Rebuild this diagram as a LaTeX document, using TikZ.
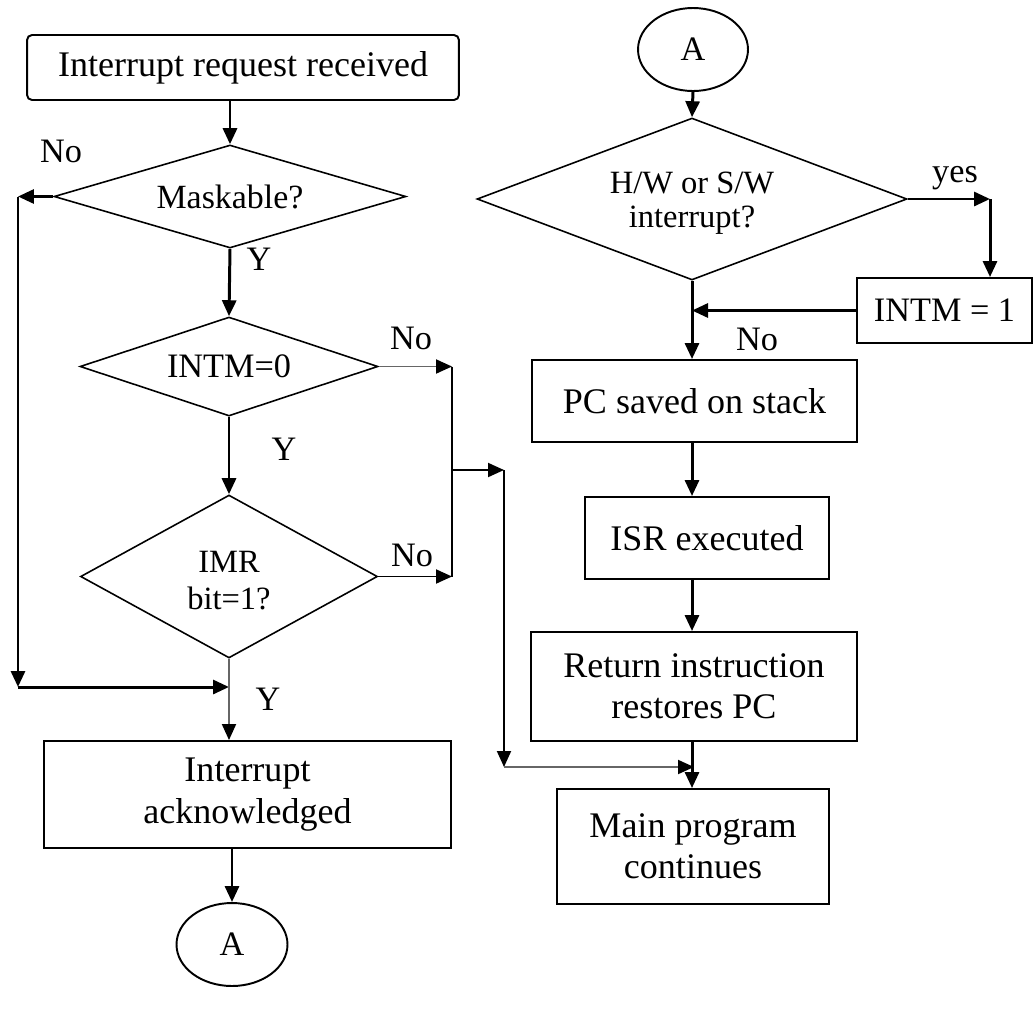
\documentclass[tikz,border=0pt]{standalone}
\usepackage{fontspec}
\setmainfont{Liberation Serif}
\usetikzlibrary{shapes.geometric,arrows.meta,calc}
\begin{document}
\begin{tikzpicture}[x=0.02cm,y=-0.02cm,
  box/.style={draw,line width=1.1pt,inner sep=0pt,align=center,font=\fontsize{20.5}{23.5}\selectfont},
  dia/.style={draw,shape=diamond,line width=0.9pt,inner sep=0pt,align=center,font=\fontsize{18.5}{20.5}\selectfont},
  term/.style={draw,ellipse,line width=1.1pt,inner sep=0pt,font=\fontsize{19.5}{22}\selectfont},
  lbl/.style={inner sep=0pt,font=\fontsize{19.5}{22}\selectfont},
  arr/.style={line width=1.7pt,-{Triangle[length=0.32cm,width=0.28cm]}},
  thinarr/.style={line width=1.1pt,draw=black!60,-{Triangle[length=0.32cm,width=0.28cm,color=black]}},
  plain/.style={line width=1.1pt}
]
\fill[white] (0,0) rectangle (1034,1025);
\useasboundingbox (0,0) rectangle (1034,1025);

% left column
\node[box,rounded corners=0.1cm,minimum width=8.64cm,minimum height=1.3cm] (req) at (243,67.5) {Interrupt request received};
\node[dia,aspect=3.42,minimum width=7.04cm,minimum height=2.06cm,font=\fontsize{19.3}{22}\selectfont] (mask) at (230,196.5) {Maskable?};
\node[dia,aspect=3.0,minimum width=5.96cm,minimum height=1.98cm,font=\fontsize{19.5}{22.5}\selectfont] (intm) at (229,366.5) {INTM=0};
\node[dia,aspect=1.82,minimum width=5.94cm,minimum height=3.26cm,font=\fontsize{18.5}{21}\selectfont] (imr) at (229,576.5) {};
\node[inner sep=0pt,align=center,font=\fontsize{18.5}{21}\selectfont] (imrt) at (229,581) {IMR\\bit=1?};
\node[box,minimum width=8.14cm,minimum height=2.14cm] (ack) at (247.5,794.5) {Interrupt\\acknowledged};
\node[term,minimum width=2.22cm,minimum height=1.66cm] (A2) at (232,944.5) {A};

% right column
\node[term,minimum width=2.2cm,minimum height=1.66cm] (A1) at (693,49.5) {A};
\node[dia,aspect=2.65,minimum width=8.6cm,minimum height=3.24cm] (hw) at (692,199) {};
\node[inner sep=0pt,align=center,font=\fontsize{18.5}{19.5}\selectfont] (hwt) at (692,203) {H/W or S/W\\interrupt?};
\node[box,minimum width=3.5cm,minimum height=1.3cm,font=\fontsize{19.5}{22}\selectfont] (intm1) at (944.5,310.5) {INTM = 1};
\node[box,minimum width=6.5cm,minimum height=1.64cm] (pc) at (694.5,401) {PC saved on stack};
\node[box,minimum width=4.88cm,minimum height=1.64cm] (isr) at (707,538) {ISR executed};
\node[box,minimum width=6.52cm,minimum height=2.18cm] (ret) at (694,686.5) {Return instruction\\restores PC};
\node[box,minimum width=5.44cm,minimum height=2.3cm] (main) at (693,846.5) {Main program\\continues};

% labels
\node[lbl] (n1) at (61,151) {No};
\node[lbl] (y1) at (259,259) {Y};
\node[lbl] (n2) at (411,338) {No};
\node[lbl] (y2) at (284,449) {Y};
\node[lbl] (n3) at (412,555) {No};
\node[lbl] (y3) at (268,699) {Y};
\node[lbl] (yes) at (955,178) {yes};
\node[lbl] (n4) at (757,339) {No};

% coordinates
\coordinate (L1) at (18,196.5);
\coordinate (L2) at (18,687);
\coordinate (J1) at (imr.south |- L2);
\coordinate (R1) at (452,366.5);
\coordinate (R2) at (452,576.5);
\coordinate (Rm) at (452,470);
\coordinate (R3) at (504,470);
\coordinate (R4) at (504,767);
\coordinate (J2) at (ret.south |- R4);
\coordinate (Y1) at (990,199);
\coordinate (N1) at (hw.south |- intm1.west);

% left connectors
\draw[arr] (req.south -| mask.north) -- (mask.north);
\draw[arr] (mask.west) -- (L1);
\draw[arr] (L1) -- (L2);
\draw[arr] (L2) -- (J1);
\draw[arr] (mask.south) -- (intm.north);
\draw[thinarr] (intm.east) -- (R1);
\draw[plain] (R1) -- (R2);
\draw[thinarr,draw=black] (imr.east) -- (R2);
\draw[thinarr,draw=black] (Rm) -- (R3);
\draw[thinarr,draw=black] (R3) -- (R4);
\draw[thinarr] (R4) -- (J2);
\draw[arr] (intm.south) -- (imr.north);
\draw[thinarr] (imr.south) -- (imr.south |- ack.north);
\draw[arr] (ack.south -| A2.north) -- (A2.north);

% right connectors
\draw[arr] (A1.south) -- (hw.north);
\draw[arr] (hw.east) -- (Y1);
\draw[arr] (Y1) -- (Y1 |- intm1.north);
\draw[arr] (intm1.west) -- (N1);
\draw[arr] (hw.south) -- (pc.north -| hw.south);
\draw[arr] (pc.south -| hw.south) -- (isr.north -| hw.south);
\draw[arr] (isr.south -| hw.south) -- (ret.north -| hw.south);
\draw[arr] (ret.south -| hw.south) -- (main.north -| hw.south);
\end{tikzpicture}
\end{document}
